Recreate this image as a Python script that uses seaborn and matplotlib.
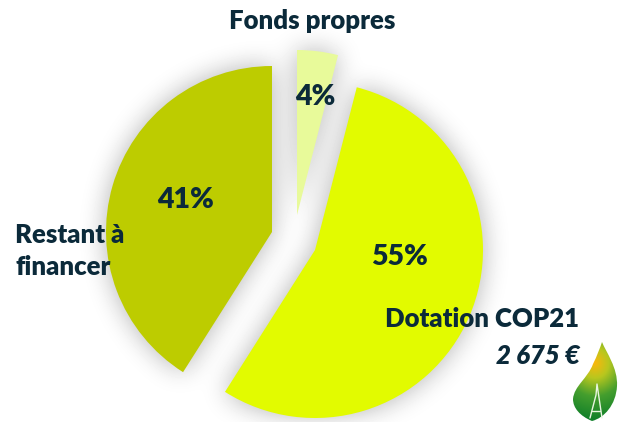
import numpy as np
import seaborn as sns
import matplotlib
matplotlib.use("Agg")
import matplotlib.pyplot as plt
from matplotlib.patches import Wedge, PathPatch
from matplotlib.path import Path

sns.set_theme(style="white")
plt.rcParams['font.family'] = ['Lato', 'DejaVu Sans']

labels = ["Fonds propres", "Dotation COP21", "Restant à\nfinancer"]
values = [4, 55, 41]
pct_labels = ["4%", "55%", "41%"]
colors = ["#E8FA9A", "#E2FB00", "#BDCC00"]
amount = "2 675 €"
ink = "#0B2A3A"

centers = [(297, 215), (315, 250), (272, 232)]
radii = [165, 168, 166]

W, H = 625, 422
fig = plt.figure(figsize=(W/100, H/100), dpi=100, facecolor="white")
ax = fig.add_axes([0, 0, 1, 1])
ax.set_xlim(0, W); ax.set_ylim(H, 0); ax.axis("off")

edges = np.cumsum([0] + values) / 100 * 360

# soft blocky glow behind the slices
yy, xx = np.mgrid[0:H, 0:W] + 0.5
mask = np.zeros((H, W))
for (cx, cy), r, a, b in zip(centers, radii, edges[:-1], edges[1:]):
    dx, dy = xx - cx, yy - cy
    ang = np.degrees(np.arctan2(dx, -dy)) % 360
    mask[(np.hypot(dx, dy) <= r) & (ang >= a) & (ang <= b)] = 1
k = 25
kern = np.ones(k) / k
blur = mask
for _ in range(3):
    blur = np.apply_along_axis(lambda v: np.convolve(v, kern, mode="same"), 0, blur)
    blur = np.apply_along_axis(lambda v: np.convolve(v, kern, mode="same"), 1, blur)
shade = 1 - 0.15 * np.clip(blur * 2.0, 0, 1)
ax.imshow(shade, cmap="gray", vmin=0, vmax=1, extent=(0, W, H, 0), zorder=1, aspect="auto", interpolation="bilinear")
ax.set_xlim(0, W); ax.set_ylim(H, 0)

for c, r, a, b, col in zip(centers, radii, edges[:-1], edges[1:], colors):
    # clockwise from north, y axis inverted
    ax.add_patch(Wedge(c, r, a - 90, b - 90, fc=col, ec="none", zorder=3))

bold = dict(fontweight="heavy", color=ink, zorder=5)
pct_pos = [(315, 97), (399, 257), (186, 200)]
for (x, y), t in zip(pct_pos, pct_labels):
    ax.text(x, y, t, ha="center", va="center", fontsize=20.5, **bold)
ax.text(312, 21, labels[0], ha="center", va="center", fontsize=18.5, **bold)
ax.text(482, 319, labels[1], ha="center", va="center", fontsize=18.5, **bold)
ax.text(15, 251, labels[2], ha="left", va="center", fontsize=18.5, linespacing=1.38, **bold)
ax.text(580, 356, amount, ha="right", va="center", fontsize=18.5, style="italic", **bold)

# flame logo with gradient
verts = [(602, 342), (606, 352), (618, 368), (617, 386), (616, 405), (604, 418), (592, 421),
         (580, 416), (573, 408), (573, 399), (574, 386), (588, 378), (593, 364), (597, 356), (600, 348), (602, 342)]
codes = [Path.MOVETO] + [Path.CURVE4] * 15
flame = PathPatch(Path(verts, codes), fc="none", ec="none", zorder=4)
ax.add_patch(flame)
gy, gx = np.mgrid[340:422, 570:620] + 0.5
d = np.clip(np.hypot((gx - 595) / 1.0, (gy - 363) / 1.1) / 55, 0, 1)[..., None]
stops = np.array([[0.98, 0.72, 0.05], [0.72, 0.78, 0.12], [0.27, 0.62, 0.18], [0.03, 0.48, 0.16]])
pos = np.array([0.0, 0.25, 0.55, 1.0])
rgb = np.dstack([np.interp(d[..., 0], pos, stops[:, i]) for i in range(3)])
im = ax.imshow(rgb, extent=(570, 620, 422, 340), zorder=4.1, aspect="auto", interpolation="bilinear")
im.set_clip_path(flame)
ax.set_xlim(0, W); ax.set_ylim(H, 0)
ax.plot([590, 596, 597, 602], [418, 395, 384, 418], color="#E8F5E0", lw=1, zorder=4.3)
ax.plot([592, 600], [411, 411], color="#E8F5E0", lw=1, zorder=4.3)

fig.savefig("out.png", dpi=100, facecolor="white")
